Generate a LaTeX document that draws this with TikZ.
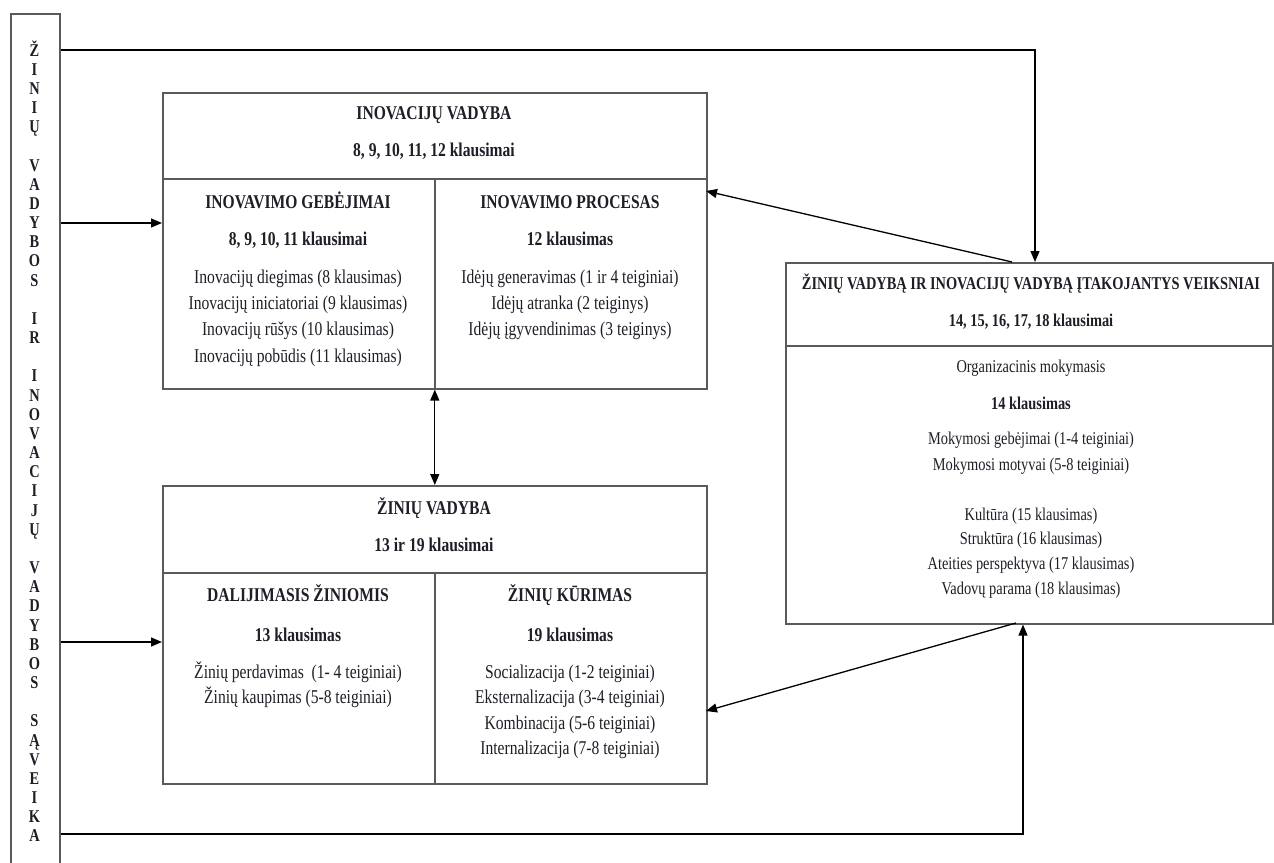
\documentclass[tikz,border=0pt]{standalone}
\usepackage{fontspec}
\setmainfont{Liberation Serif}[FakeStretch=0.8]
\usetikzlibrary{arrows.meta}
\definecolor{boxc}{HTML}{5A5A5A}
\definecolor{textc}{HTML}{1E1E28}
\begin{document}
\begin{tikzpicture}[x=1pt,y=-1pt,
  box/.style={draw=boxc, line width=1.6pt, inner sep=0pt, anchor=north west},
  divl/.style={draw=boxc, line width=1.6pt},
  conn/.style={draw=black, line width=1.3pt},
  arr/.style={conn, -{Triangle[length=11pt,width=9pt]}},
  darr/.style={conn, {Triangle[length=11pt,width=9pt]}-{Triangle[length=11pt,width=9pt]}},
  txt/.style={font=\fontsize{18}{22}\selectfont, text=textc, inner sep=0pt, anchor=base},
  btxt/.style={font=\fontsize{18}{22}\selectfont\bfseries, text=textc, inner sep=0pt, anchor=base},
  ltxt/.style={font=\fontsize{19.5}{22}\selectfont, text=textc, inner sep=0pt, anchor=base},
  lbtxt/.style={font=\fontsize{19.5}{22}\selectfont\bfseries, text=textc, inner sep=0pt, anchor=base},
]
\useasboundingbox (0,0) rectangle (1274,862);
\clip (0,0) rectangle (1274,862);
\fill[white] (0,0) rectangle (1274,862);

% boxes
\node[box, minimum width=49pt, minimum height=880pt] (vbox) at (10,13) {};
\node[box, minimum width=544pt, minimum height=296pt] (ivbox) at (162,92) {};
\node[box, minimum width=544pt, minimum height=298pt] (zvbox) at (162,485) {};
\node[box, minimum width=487pt, minimum height=361pt] (rbox) at (785,262) {};

% dividers
\draw[divl] (ivbox.west |- 0,179) -- (ivbox.east |- 0,179);
\draw[divl] (ivbox.south |- 0,179) -- (ivbox.south);
\draw[divl] (zvbox.west |- 0,573) -- (zvbox.east |- 0,573);
\draw[divl] (zvbox.south |- 0,573) -- (zvbox.south);
\draw[divl] (rbox.west |- 0,346) -- (rbox.east |- 0,346);

% vertical text
\foreach \l/\k in {Ž/0,I/1,N/2,I/3,Ų/4,V/6,A/7,D/8,Y/9,B/10,O/11,S/12,I/14,R/15,I/17,N/18,O/19,V/20,A/21,C/22,I/23,J/24,Ų/25,V/27,A/28,D/29,Y/30,B/31,O/32,S/33,S/35,Ą/36,V/37,E/38,I/39,K/40,A/41}
  \node[btxt, font=\fontsize{18}{20}\selectfont\bfseries] (v\k) at (34.5,{56+19.17*\k}) {\l};

% INOVACIJU VADYBA box
\node[lbtxt] (ivt) at (434,119) {INOVACIJŲ VADYBA};
\node[lbtxt] (ivk) at (434,156) {8, 9, 10, 11, 12 klausimai};
\node[lbtxt] (igt) at (298,208) {INOVAVIMO GEBĖJIMAI};
\node[lbtxt] (igk) at (298,245) {8, 9, 10, 11 klausimai};
\foreach \t [count=\i] in {Inovacijų diegimas (8 klausimas),Inovacijų iniciatoriai (9 klausimas),Inovacijų rūšys (10 klausimas),Inovacijų pobūdis (11 klausimas)}
  \node[ltxt] (ig\i) at (298,{283+26.4*(\i-1)}) {\t};
\node[lbtxt] (ipt) at (570,208) {INOVAVIMO PROCESAS};
\node[lbtxt] (ipk) at (570,245) {12 klausimas};
\foreach \t [count=\i] in {Idėjų generavimas (1 ir 4 teiginiai),Idėjų atranka (2 teiginys),Idėjų įgyvendinimas (3 teiginys)}
  \node[ltxt] (ip\i) at (570,{283+26.4*(\i-1)}) {\t};

% ZINIU VADYBA box
\node[lbtxt] (zvt) at (434,514) {ŽINIŲ VADYBA};
\node[lbtxt] (zvk) at (434,551) {13 ir 19 klausimai};
\node[lbtxt] (dzt) at (298,601) {DALIJIMASIS ŽINIOMIS};
\node[lbtxt] (dzk) at (298,641) {13 klausimas};
\node[ltxt] (dz1) at (298,678) {Žinių perdavimas\ \ (1- 4 teiginiai)};
\node[ltxt] (dz2) at (298,703) {Žinių kaupimas (5-8 teiginiai)};
\node[lbtxt] (zkt) at (570,601) {ŽINIŲ KŪRIMAS};
\node[lbtxt] (zkk) at (570,641) {19 klausimas};
\foreach \t [count=\i] in {Socializacija (1-2 teiginiai),Eksternalizacija (3-4 teiginiai),Kombinacija (5-6 teiginiai),Internalizacija (7-8 teiginiai)}
  \node[ltxt] (zk\i) at (570,{678+25.5*(\i-1)}) {\t};

% right box
\node[btxt] (rt) at (1031,289) {ŽINIŲ VADYBĄ IR INOVACIJŲ VADYBĄ ĮTAKOJANTYS VEIKSNIAI};
\node[btxt] (rk) at (1031,326) {14, 15, 16, 17, 18 klausimai};
\node[txt] (om) at (1031,372) {Organizacinis mokymasis};
\node[btxt] (omk) at (1031,409) {14 klausimas};
\node[txt] (m1) at (1031,444) {Mokymosi gebėjimai (1-4 teiginiai)};
\node[txt] (m2) at (1031,470) {Mokymosi motyvai (5-8 teiginiai)};
\foreach \t [count=\i] in {Kultūra (15 klausimas),Struktūra (16 klausimas),Ateities perspektyva (17 klausimas),Vadovų parama (18 klausimas)}
  \node[txt] (f\i) at (1031,{520+24.7*(\i-1)}) {\t};

% connectors
\coordinate (tr) at (1035,50);
\draw[arr] (vbox.east |- tr) -- (tr) -- (tr |- rbox.north);
\draw[arr] (vbox.east |- 0,223) -- (ivbox.west |- 0,223);
\draw[arr] (vbox.east |- 0,642) -- (zvbox.west |- 0,642);
\coordinate (br) at (1023,834);
\draw[arr] (vbox.east |- br) -- (br) -- (br |- rbox.south);
\draw[darr] (ivbox.south) -- (zvbox.north);
\coordinate (d1) at (1012,262);
\coordinate (d1e) at (706,191);
\draw[arr] (d1) -- (d1e);
\coordinate (d2) at (1016,623);
\coordinate (d2e) at (706,711);
\draw[arr] (d2) -- (d2e);
\end{tikzpicture}
\end{document}
